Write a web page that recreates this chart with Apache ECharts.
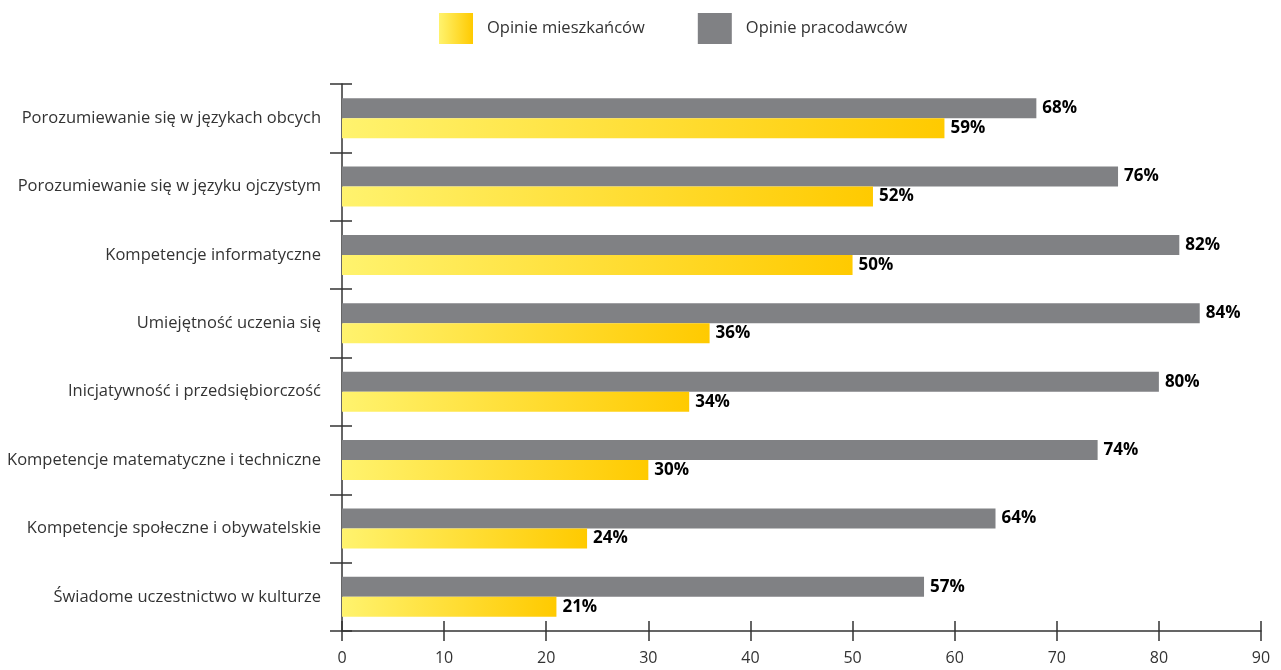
<!DOCTYPE html>
<html>
<head>
<meta charset="utf-8">
<script src="https://cdn.jsdelivr.net/npm/echarts@6/dist/echarts.min.js"></script>
<style>
  html, body { margin: 0; padding: 0; background: #fff; }
  #chart { width: 1281px; height: 670px; }
</style>
</head>
<body>
<div id="chart"></div>
<script>
// Kluczowe kompetencje – porównanie opinii mieszkańców i pracodawców (%)
const categories = [
  'Porozumiewanie się w językach obcych',
  'Porozumiewanie się w języku ojczystym',
  'Kompetencje informatyczne',
  'Umiejętność uczenia się',
  'Inicjatywność i przedsiębiorczość',
  'Kompetencje matematyczne i techniczne',
  'Kompetencje społeczne i obywatelskie',
  'Świadome uczestnictwo w kulturze'
];
const employers = [68, 76, 82, 84, 80, 74, 64, 57];
const residents = [59, 52, 50, 36, 34, 30, 24, 21];
const xTicks = { min: 0, max: 90, interval: 10 };
const seriesNames = ['Opinie mieszkańców', 'Opinie pracodawców'];

const FONT = '"Open Sans", "Noto Sans", sans-serif';
const AXIS_COLOR = '#333';
const GREY = '#808184';
const yellowGradient = new echarts.graphic.LinearGradient(0, 0, 1, 0, [
  { offset: 0, color: '#fff36e' },
  { offset: 1, color: '#ffca00' }
]);

const valueLabel = {
  show: true,
  position: 'right',
  distance: 6,
  formatter: '{c}%',
  color: '#000',
  fontFamily: FONT,
  fontWeight: 'bold',
  fontSize: 17
};

const chart = echarts.init(document.getElementById('chart'), null, { renderer: 'canvas' });
chart.setOption({
  animation: false,
  backgroundColor: '#fff',
  legend: {
    left: 439,
    top: 13,
    padding: 0,
    itemWidth: 34,
    itemHeight: 31,
    itemGap: 53,
    icon: 'rect',
    data: seriesNames,
    textStyle: {
      fontFamily: FONT,
      fontSize: 16.5,
      color: '#333',
      padding: [0, 0, 0, 9]
    }
  },
  grid: { left: 342, right: 20, top: 84, bottom: 39, containLabel: false },
  xAxis: [
    {
      type: 'value',
      min: xTicks.min,
      max: xTicks.max,
      interval: xTicks.interval,
      position: 'bottom',
      splitLine: { show: false },
      axisLine: { show: true, lineStyle: { color: AXIS_COLOR, width: 1.5 } },
      axisTick: { show: true, length: 10, lineStyle: { color: AXIS_COLOR, width: 1.5 } },
      axisLabel: { color: '#333', fontFamily: FONT, fontSize: 16, margin: 19 }
    },
    {
      type: 'value',
      min: xTicks.min,
      max: xTicks.max,
      interval: xTicks.interval,
      position: 'bottom',
      splitLine: { show: false },
      axisLine: { show: false },
      axisTick: { show: true, inside: true, length: 10, lineStyle: { color: AXIS_COLOR, width: 1.5 } },
      axisLabel: { show: false }
    }
  ],
  yAxis: [
    {
      type: 'category',
      data: categories,
      inverse: true,
      position: 'left',
      axisLine: { show: true, lineStyle: { color: AXIS_COLOR, width: 1.5 } },
      axisTick: { show: true, length: 12, lineStyle: { color: AXIS_COLOR, width: 1.5 } },
      axisLabel: { color: '#333', fontFamily: FONT, fontSize: 16.5, margin: 21 }
    },
    {
      type: 'category',
      data: categories,
      inverse: true,
      position: 'left',
      axisLine: { show: false },
      axisTick: { show: true, inside: true, length: 10, lineStyle: { color: AXIS_COLOR, width: 1.5 } },
      axisLabel: { show: false }
    }
  ],
  series: [
    {
      name: seriesNames[1],
      type: 'bar',
      data: employers,
      barWidth: 20,
      barGap: '0%',
      itemStyle: { color: GREY },
      label: valueLabel
    },
    {
      name: seriesNames[0],
      type: 'bar',
      data: residents,
      barWidth: 20,
      barGap: '0%',
      itemStyle: { color: yellowGradient },
      label: valueLabel
    }
  ]
});
</script>
</body>
</html>
